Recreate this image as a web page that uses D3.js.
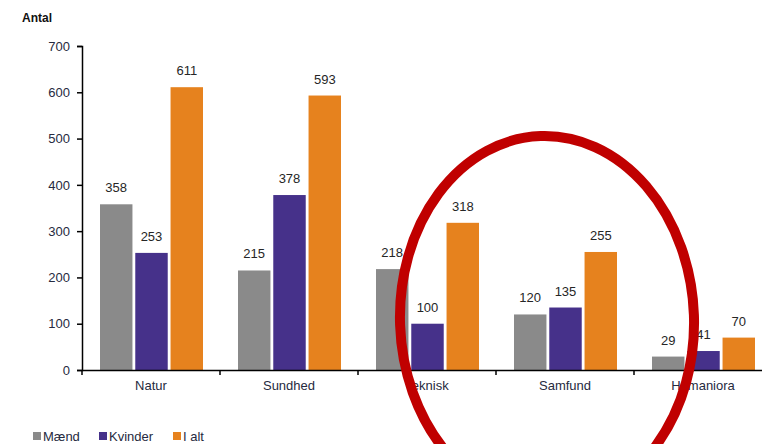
<!DOCTYPE html>
<html>
<head>
<meta charset="utf-8">
<script src="https://cdn.jsdelivr.net/npm/d3@7"></script>
<style>
  body { margin: 0; background: #fff; }
  svg { display: block; font-family: "Liberation Sans", Arial, sans-serif; }
</style>
</head>
<body>
<div id="app"></div>
<script>
const categories = ["Natur", "Sundhed", "Teknisk", "Samfund", "Humaniora"]
const series = ["Mænd", "Kvinder", "I alt"]
const maend = [358, 215, 218, 120, 29]
const kvinder = [253, 378, 100, 135, 41]
const ialt = [611, 593, 318, 255, 70]
const yTicks = [0, 100, 200, 300, 400, 500, 600, 700]
const colors = ["#8a8a8a", "#46318a", "#e6821e"]

const width = 762, height = 444
const marginLeft = 82, plotTop = 46, plotBottom = 370

const svg = d3.select('#app')
    .append('svg')
    .attr('width', width)
    .attr('height', height)

const xScale = d3.scaleBand()
    .domain(categories)
    .range([marginLeft, marginLeft + 138 * 5])

const xInner = d3.scaleBand()
    .domain(series)
    .range([18, 121])
    .paddingInner(0.08)

const yScale = d3.scaleLinear()
    .domain([0, 700])
    .range([plotBottom, plotTop])

const rows = categories.map((c, i) => ({ cat: c, vals: [maend[i], kvinder[i], ialt[i]] }))

// bars
const groups = svg.selectAll('g.grp')
    .data(rows)
    .enter()
    .append('g')
    .attr('class', 'grp')
    .attr('transform', d => `translate(${xScale(d.cat)},0)`)

groups.selectAll('rect')
    .data(d => d.vals.map((v, j) => ({ s: series[j], v: v, j: j })))
    .enter()
    .append('rect')
    .attr('x', d => xInner(d.s))
    .attr('y', d => yScale(d.v))
    .attr('width', xInner.bandwidth())
    .attr('height', d => plotBottom - yScale(d.v))
    .attr('fill', d => colors[d.j])

groups.selectAll('text')
    .data(d => d.vals.map((v, j) => ({ s: series[j], v: v })))
    .enter()
    .append('text')
    .attr('x', d => xInner(d.s) + xInner.bandwidth() / 2)
    .attr('y', d => yScale(d.v) - 12)
    .attr('text-anchor', 'middle')
    .attr('font-size', 13)
    .attr('fill', '#262626')
    .text(d => d.v)

// y axis
const yAxis = d3.axisLeft(yScale).tickValues(yTicks).tickSize(5).tickPadding(7)
const gy = svg.append('g')
    .attr('transform', `translate(${marginLeft},0)`)
    .call(yAxis)
gy.select('.domain').attr('stroke', '#000').attr('stroke-width', 1.5)
gy.selectAll('.tick line').attr('stroke', '#000').attr('stroke-width', 1.5)
gy.selectAll('.tick text').attr('font-size', 13).attr('fill', '#262a40')
    .attr('font-family', '"Liberation Sans", Arial, sans-serif')

// x axis
const xAxis = d3.axisBottom(xScale).tickSize(0).tickPadding(11)
const gx = svg.append('g')
    .attr('transform', `translate(0,${plotBottom})`)
    .call(xAxis)
gx.select('.domain').attr('stroke', '#000').attr('stroke-width', 1.5)
gx.selectAll('.tick text').attr('font-size', 13).attr('fill', '#262a40')
    .attr('font-family', '"Liberation Sans", Arial, sans-serif')
gx.selectAll('line.sep')
    .data(categories)
    .enter()
    .append('line')
    .attr('class', 'sep')
    .attr('x1', d => xScale(d))
    .attr('x2', d => xScale(d))
    .attr('y1', 0)
    .attr('y2', 5)
    .attr('stroke', '#000')
    .attr('stroke-width', 1.5)

svg.append('text')
    .attr('x', 22)
    .attr('y', 22)
    .attr('font-size', 12)
    .attr('font-weight', 'bold')
    .attr('fill', '#111')
    .text('Antal')

// legend
const legendX = [33, 99, 173]
const legend = svg.selectAll('g.leg')
    .data(series)
    .enter()
    .append('g')
    .attr('class', 'leg')
    .attr('transform', (d, i) => `translate(${legendX[i]},432)`)
legend.append('rect')
    .attr('width', 8)
    .attr('height', 8)
    .attr('fill', (d, i) => colors[i])
legend.append('text')
    .attr('x', 10)
    .attr('y', 9)
    .attr('font-size', 13)
    .attr('fill', '#262a40')
    .text(d => d)

// red circle annotation
svg.append('ellipse')
    .attr('cx', 547)
    .attr('cy', 320)
    .attr('rx', 147)
    .attr('ry', 184)
    .attr('transform', 'rotate(-2 547 320)')
    .attr('fill', 'none')
    .attr('stroke', '#c00000')
    .attr('stroke-width', 10)
</script>
</body>
</html>
